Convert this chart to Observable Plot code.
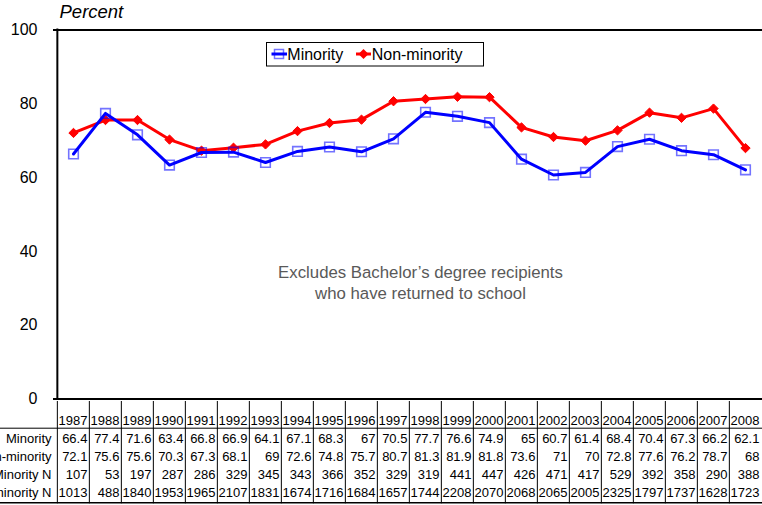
<!DOCTYPE html>
<html><head><meta charset="utf-8">
<script src="https://cdn.jsdelivr.net/npm/d3@7"></script>
<script src="https://cdn.jsdelivr.net/npm/@observablehq/plot@0.6"></script>
<style>
html,body{margin:0;padding:0;background:#fff;overflow:hidden;}
#wrap{position:relative;width:762px;height:505px;overflow:hidden;font-family:"Liberation Sans",Arial,sans-serif;}
#wrap svg{display:block;max-width:none;}
#wrap svg.chartA{overflow:visible;position:relative;z-index:1;}
.chartA g[aria-label^="y-axis"] text{font-size:16px;}
#legend{position:absolute;left:266px;top:42px;z-index:2;}
</style></head><body><div id="wrap"><div id="legend"></div></div>
<script>
const years = [1987,1988,1989,1990,1991,1992,1993,1994,1995,1996,1997,1998,1999,2000,2001,2002,2003,2004,2005,2006,2007,2008];
const minority = [66.4,77.4,71.6,63.4,66.8,66.9,64.1,67.1,68.3,67,70.5,77.7,76.6,74.9,65,60.7,61.4,68.4,70.4,67.3,66.2,62.1];
const nonMinority = [72.1,75.6,75.6,70.3,67.3,68.1,69,72.6,74.8,75.7,80.7,81.3,81.9,81.8,73.6,71,70,72.8,77.6,76.2,78.7,68];
const minorityN = [107,53,197,287,286,329,345,343,366,352,329,319,441,447,426,471,417,529,392,358,290,388];
const nonMinorityN = [1013,488,1840,1953,1965,2107,1831,1674,1716,1684,1657,1744,2208,2070,2068,2065,2005,2325,1797,1737,1628,1723];
const yTicks = [0,20,40,60,80,100];
const rowNames = ["Minority","Non-minority","Minority N","Non-minority N"];
const noteText = "Excludes Bachelor\u2019s degree recipients\nwho have returned to school";
const yLabel = "Percent";

const FONT = '"Liberation Sans", Arial, sans-serif';
const colStep = 32.3, x0 = 54;
const xRange = [x0 + colStep/2, x0 + colStep/2 + colStep*(years.length-1)];

const minData = years.map((y,i)=>({year:y, value:minority[i]}));
const nonData = years.map((y,i)=>({year:y, value:nonMinority[i]}));

const chart = Plot.plot({
  width: 762, height: 401, marginTop: 29.5, marginBottom: 2.5, marginLeft: 54, marginRight: 0,
  className: "chartA",
  style: {fontFamily: FONT, fontSize: "16px", background: "transparent", color: "black", overflow: "visible"},
  x: {type: "point", domain: years, range: xRange, padding: 0, axis: null},
  y: {domain: [0,100], ticks: yTicks, tickSize: 0, tickPadding: 17, label: null},
  marks: [
    Plot.ruleY([0,100], {y: d=>d, stroke: "black", strokeWidth: 2, strokeLinecap: "square"}),
    Plot.ruleX([years[0]], {x: d=>d, dx: -colStep/2, y1: 0, y2: 100, stroke: "black", strokeWidth: 2, strokeLinecap: "square"}),
    Plot.text([yLabel], {frameAnchor: "top-left", dx: 5, dy: -17.5, text: d=>d, textAnchor: "start", lineAnchor: "middle", fontStyle: "italic", fontSize: 18.5, fill: "black"}),
    Plot.text([noteText], {frameAnchor: "top-left", dx: 366, dy: 252, text: d=>d, textAnchor: "middle", lineAnchor: "middle", lineHeight: 1.22, fontSize: 16.8, fill: "#595959"}),
    Plot.line(nonData, {x: "year", y: "value", stroke: "#ff0000", strokeWidth: 3}),
    Plot.dot(nonData, {x: "year", y: "value", symbol: "diamond2", r: 4.2, fill: "#ff0000", stroke: "#ff0000", strokeWidth: 1}),
    Plot.line(minData, {x: "year", y: "value", stroke: "#0000ff", strokeWidth: 3}),
    Plot.dot(minData, {x: "year", y: "value", symbol: "square", r: 5.4, fill: "none", stroke: "#0000ff", strokeOpacity: 0.55, strokeWidth: 1.6})
  ]
});

const rowKeys = ["year", ...rowNames];
const rowArrays = [minority, nonMinority, minorityN, nonMinorityN];
const cells = [];
years.forEach((y,i)=>{
  cells.push({row: "year", year: y, text: String(y)});
  rowNames.forEach((r,k)=>cells.push({row: r, year: y, text: String(rowArrays[k][i])}));
});

const table = Plot.plot({
  width: 762, height: 104, marginTop: 0, marginBottom: 1.7, marginLeft: 0, marginRight: 0,
  style: {fontFamily: FONT, fontSize: "13px", background: "white", color: "black"},
  x: {type: "point", domain: years, range: xRange, padding: 0, axis: null},
  y: {type: "point", domain: rowKeys, range: [17, 92], padding: 0, axis: null},
  marks: [
    Plot.ruleX(years, {x: d=>d, dx: -colStep/2, stroke: "#000", strokeWidth: 1}),
    Plot.ruleY(["year"], {y: d=>d, dy: 7.7, stroke: "#000", strokeWidth: 1}),
    Plot.ruleY(["Non-minority N"], {y: d=>d, dy: 10.3, stroke: "#000", strokeWidth: 1.5}),
    Plot.text(cells, {x: "year", y: "row", text: "text", textAnchor: "end", dx: colStep/2 - 2.2, fontSize: 13, fill: "black"}),
    Plot.text(rowNames, {y: d=>d, text: d=>d, frameAnchor: "left", dx: 51, textAnchor: "end", fontSize: 13, fill: "black"})
  ]
});

const wrap = document.getElementById("wrap");
wrap.appendChild(chart);
wrap.appendChild(table);

document.getElementById("legend").innerHTML = `
<svg width="219" height="25" style="display:block;font-family:${FONT.replace(/"/g,"'")}">
<rect x="0.5" y="0.5" width="217" height="23.5" fill="white" stroke="black" stroke-width="1"/>
<line x1="5.5" x2="21" y1="12" y2="12" stroke="#0000ff" stroke-width="3"/>
<rect x="8.5" y="7.5" width="9" height="9" fill="none" stroke="#0000ff" stroke-opacity="0.55" stroke-width="1.5"/>
<text x="21.3" y="12" dy="0.35em" font-size="16" fill="black">Minority</text>
<line x1="90" x2="105" y1="12" y2="12" stroke="#ff0000" stroke-width="3"/>
<path d="M97.5,7L102.5,12L97.5,17L92.5,12Z" fill="#ff0000"/>
<text x="105.7" y="12" dy="0.35em" font-size="16" fill="black">Non-minority</text>
</svg>`;
</script>
</body></html>
